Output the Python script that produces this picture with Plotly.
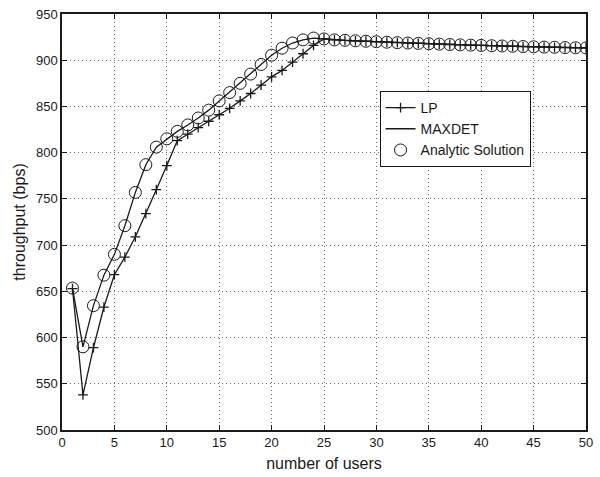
import plotly.graph_objects as go

users = list(range(1, 51))

lp = [653, 538, 589, 633, 668, 687, 709, 734, 760, 786,
      813, 820, 827, 834, 841, 848, 856, 864, 873, 882,
      889, 898, 907, 916, 923, 922, 921.5, 921, 920.5, 920,
      919.5, 919, 918.6, 918.2, 917.8, 917.4, 917, 916.6, 916.3, 916,
      915.7, 915.4, 915.1, 914.8, 914.5, 914.2, 914, 913.7, 913.5, 913.3]

maxdet = [653.5, 590, 634.5, 667.5, 690, 721, 757, 787, 806, 815,
          823, 830, 837.5, 846, 856, 865, 875, 885, 895.4, 905.4,
          913, 918.6, 922, 924, 923, 922, 921.5, 921, 920.5, 920,
          919.5, 919, 918.6, 918.2, 917.8, 917.4, 917, 916.6, 916.3, 916,
          915.7, 915.4, 915.1, 914.8, 914.5, 914.2, 914, 913.7, 913.5, 913.3]

analytic = list(maxdet)

x_ticks = [0, 5, 10, 15, 20, 25, 30, 35, 40, 45, 50]
y_ticks = [500, 550, 600, 650, 700, 750, 800, 850, 900, 950]

FONT = "Liberation Sans, Arial, Helvetica"
INK = "#1a1a1a"

fig = go.Figure()
fig.add_trace(go.Scatter(
    x=users, y=lp, name="LP", mode="lines+markers",
    line=dict(color=INK, width=1.3),
    marker=dict(symbol="cross-thin", size=7, color=INK,
                line=dict(color=INK, width=1.3)),
))
fig.add_trace(go.Scatter(
    x=users, y=maxdet, name="MAXDET", mode="lines",
    line=dict(color=INK, width=1.3),
))
fig.add_trace(go.Scatter(
    x=users, y=analytic, name="Analytic Solution", mode="markers",
    marker=dict(symbol="circle-open", size=12, color=INK,
                line=dict(color=INK, width=1)),
))

axis_common = dict(
    showline=True, linecolor=INK, linewidth=1.5, mirror="ticks",
    ticks="inside", ticklen=5, tickcolor=INK, tickwidth=1,
    showgrid=True, gridcolor="#6e6e6e", griddash="1px,3px", gridwidth=1,
    zeroline=False,
    tickfont=dict(family=FONT, size=13, color=INK),
)

fig.update_xaxes(range=[0, 50], tickvals=x_ticks,
                 title=dict(text="number of users", standoff=8,
                            font=dict(family=FONT, size=16, color=INK)),
                 **axis_common)
fig.update_yaxes(range=[500, 950], tickvals=y_ticks,
                 title=dict(text="throughput (bps)", standoff=6,
                            font=dict(family=FONT, size=16, color=INK)),
                 **axis_common)

fig.update_layout(
    width=600, height=477,
    margin=dict(l=62, r=7, t=10, b=47),
    paper_bgcolor="white", plot_bgcolor="white",
    showlegend=True,
    legend=dict(x=0.606, y=0.815, xanchor="left", yanchor="top",
                bgcolor="white", bordercolor=INK, borderwidth=1,
                font=dict(family=FONT, size=14, color=INK),
                tracegroupgap=0, itemwidth=30),
)

fig.write_html("out.html",
               config={"displayModeBar": False},
               post_script="document.body.style.margin='0';document.body.style.padding='0';")
